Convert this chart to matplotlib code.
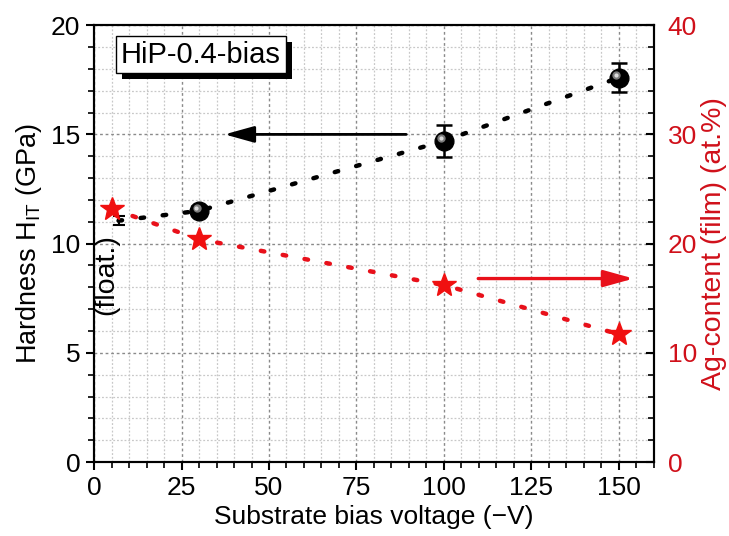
import matplotlib
matplotlib.use("Agg")
import matplotlib.pyplot as plt
from matplotlib.ticker import MultipleLocator
from matplotlib import transforms
from matplotlib.patches import Rectangle

plt.rcParams['font.family'] = ['Liberation Sans', 'DejaVu Sans']

# Data
bias = [30, 100, 150]
hardness = [11.5, 14.7, 17.6]
hardness_err = [0.2, 0.73, 0.65]
float_bias = 7
float_hardness = 11.05
float_err = 0.2
ag_bias = [5, 30, 100, 150]
ag_content = [23.2, 20.4, 16.2, 11.7]

RED = '#e8101a'
fig = plt.figure(figsize=(7.29, 5.36), dpi=100)
ax = fig.add_axes([0.129, 0.138, 0.768, 0.815])
ax2 = ax.twinx()

ax.set_xlim(0, 160)
ax.set_ylim(0, 20)
ax2.set_ylim(0, 40)

# grid
ax.xaxis.set_major_locator(MultipleLocator(25))
ax.xaxis.set_minor_locator(MultipleLocator(5))
ax.yaxis.set_major_locator(MultipleLocator(5))
ax.yaxis.set_minor_locator(MultipleLocator(1))
ax2.yaxis.set_major_locator(MultipleLocator(10))
ax2.yaxis.set_minor_locator(MultipleLocator(2))
ax.grid(which='major', color='#8a8a8a', linestyle=(0, (2, 2)), linewidth=1.0)
ax.grid(which='minor', color='#c8c8c8', linestyle=(0, (1.5, 1.5)), linewidth=0.9)
ax.set_axisbelow(True)

# ticks
ax.tick_params(axis='both', which='major', direction='out', length=6, width=1.5, labelsize=19)
ax.tick_params(axis='both', which='minor', direction='out', length=4, width=1.2)
ax.tick_params(axis='y', which='both', right=False)
ax.tick_params(axis='x', which='both', top=False)
ax.tick_params(axis='x', which='major', pad=4)
ax.tick_params(axis='y', which='major', pad=4)
ax2.tick_params(axis='y', which='major', direction='in', length=6, width=1.5, labelsize=19,
                labelcolor='#d0101a', pad=10)
ax2.tick_params(axis='y', which='minor', direction='in', length=4, width=1.2)
for sp in ax.spines.values():
    sp.set_linewidth(1.5)
for sp in ax2.spines.values():
    sp.set_linewidth(1.5)

dot = (0, (0.8, 4.2))

# hardness line + points
hx = [float_bias] + bias
hy = [float_hardness] + hardness
ax.plot(hx, hy, color='black', linestyle=dot, linewidth=3.2, dash_capstyle='round', zorder=3)
ax.errorbar([float_bias], [float_hardness], yerr=[float_err], fmt='none', ecolor='black',
            elinewidth=1.5, capsize=4, capthick=1.5, zorder=4)
ax.errorbar(bias, hardness, yerr=hardness_err, fmt='none', ecolor='black',
            elinewidth=1.8, capsize=6, capthick=1.8, zorder=4)
ax.plot(bias, hardness, linestyle='none', marker='o', ms=13.5, mfc='black', mec='black', zorder=5)
hl = transforms.offset_copy(ax.transData, fig=fig, x=-1.8, y=1.8, units='points')
ax.plot(bias, hardness, linestyle='none', marker='o', ms=6, mfc='#7a7a7a', mec='none',
        transform=hl, zorder=6)
hl2 = transforms.offset_copy(ax.transData, fig=fig, x=-2.2, y=2.2, units='points')
ax.plot(bias, hardness, linestyle='none', marker='o', ms=3, mfc='#dcdcdc', mec='none',
        transform=hl2, zorder=7)

# ag content
ax2.plot(ag_bias, ag_content, color=RED, linestyle=dot, linewidth=3.2,
         dash_capstyle='round', zorder=3)
ax2.plot(ag_bias, ag_content, linestyle='none', marker='*', ms=18, mfc='#f01010', mec='#f01010',
         zorder=5)

# arrows
ax.annotate('', xy=(36.5, 15.0), xytext=(90, 15.0),
            arrowprops=dict(arrowstyle='-|>,head_length=1.8,head_width=0.5', color='black', lw=2))
ax2.annotate('', xy=(155, 16.8), xytext=(109, 16.8),
             arrowprops=dict(arrowstyle='-|>,head_length=1.8,head_width=0.5', color=RED, lw=2.4))

# text
ax.text(3.6, 8.6, '(float.)', rotation=90, fontsize=20.5, ha='center', va='center', zorder=8)
tb = ax.text(7.7, 18.65, 'HiP-0.4-bias', fontsize=21, ha='left', va='center', zorder=8,
             bbox=dict(boxstyle='square,pad=0.16', fc='white', ec='black', lw=1.0))
fig.canvas.draw()
bb = tb.get_bbox_patch().get_window_extent().transformed(fig.transFigure.inverted())
shadow = Rectangle((bb.x0 + 6 / 729, bb.y0 - 6 / 536), bb.width, bb.height,
                   transform=fig.transFigure, fc='black', ec='none', zorder=7)
ax.add_patch(shadow)
shadow.set_clip_on(False)

ax.set_xlabel('Substrate bias voltage (\u2212V)', fontsize=19, labelpad=4)
ax.set_ylabel('Hardness H$_{\\mathregular{IT}}$ (GPa)', fontsize=19.5, labelpad=5)
ax2.set_ylabel('Ag-content (film) (at.%)', fontsize=20.5, color='#d0101a', labelpad=3)

fig.savefig('out.png', dpi=100)
